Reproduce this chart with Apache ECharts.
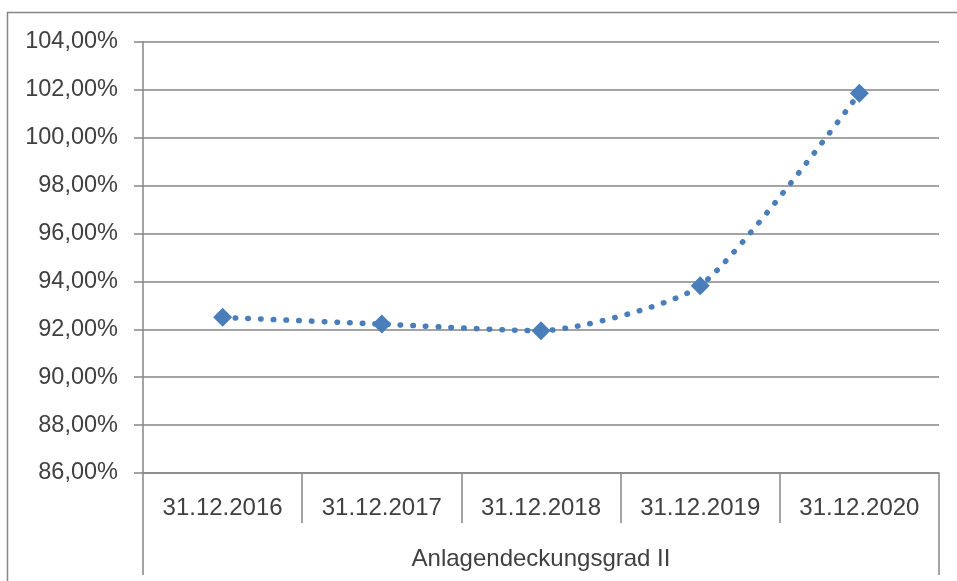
<!DOCTYPE html>
<html>
<head>
<meta charset="utf-8">
<script src="https://cdn.jsdelivr.net/npm/echarts@6/dist/echarts.min.js"></script>
<style>
html,body{margin:0;padding:0;background:#fff;}
#c{width:957px;height:581px;}
</style>
</head>
<body>
<div id="c"></div>
<script>
const categories = ['31.12.2016', '31.12.2017', '31.12.2018', '31.12.2019', '31.12.2020'];
const groupLabel = ['Anlagendeckungsgrad II'];
const values = [92.50, 92.22, 91.94, 93.82, 101.86];
const yMin = 86, yMax = 104, yStep = 2;

const gray = '#868686';
const textColor = '#404040';
const font = 'Liberation Sans';
const chart = echarts.init(document.getElementById('c'));
chart.setOption({
  animation: false,
  backgroundColor: '#fff',
  graphic: [{
    type: 'rect', left: 5, top: 10, silent: true,
    shape: { width: 980, height: 600 },
    style: { fill: 'none', stroke: gray, lineWidth: 1.5 }
  }],
  grid: { left: 143, right: 18, top: 42, bottom: 108 },
  xAxis: [{
    type: 'category', data: categories, boundaryGap: true, position: 'bottom',
    axisLine: { show: true, lineStyle: { color: gray, width: 1.5 } },
    axisTick: { show: true, interval: 0, length: 50, lineStyle: { color: gray, width: 1.5 } },
    axisLabel: { interval: 0, margin: 23, color: textColor, fontFamily: font, fontSize: 24 },
    splitLine: { show: false }
  }, {
    type: 'category', data: groupLabel, boundaryGap: true, position: 'bottom',
    axisLine: { show: false },
    axisTick: { show: true, interval: 0, length: 102, lineStyle: { color: gray, width: 1.5 } },
    axisLabel: { interval: 0, margin: 74, color: textColor, fontFamily: font, fontSize: 24 },
    splitLine: { show: false }
  }],
  yAxis: {
    type: 'value', min: yMin, max: yMax, interval: yStep,
    axisLine: { show: true, lineStyle: { color: gray, width: 1.5 } },
    axisTick: { show: true, length: 9, lineStyle: { color: gray, width: 1.5 } },
    splitLine: { show: true, lineStyle: { color: gray, width: 1.5 } },
    axisLabel: {
      margin: 25, color: textColor, fontFamily: font, fontSize: 23.5,
      formatter: v => v.toFixed(2).replace('.', ',') + '%'
    }
  },
  series: [{
    type: 'line', data: values, xAxisIndex: 0, smooth: 0.2,
    symbol: 'diamond', symbolSize: 19,
    itemStyle: { color: '#4A7EBB' },
    lineStyle: { color: '#4A7EBB', width: 5.5, type: [0.5, 12.2], cap: 'round' },
    z: 3
  }]
});
</script>
</body>
</html>
